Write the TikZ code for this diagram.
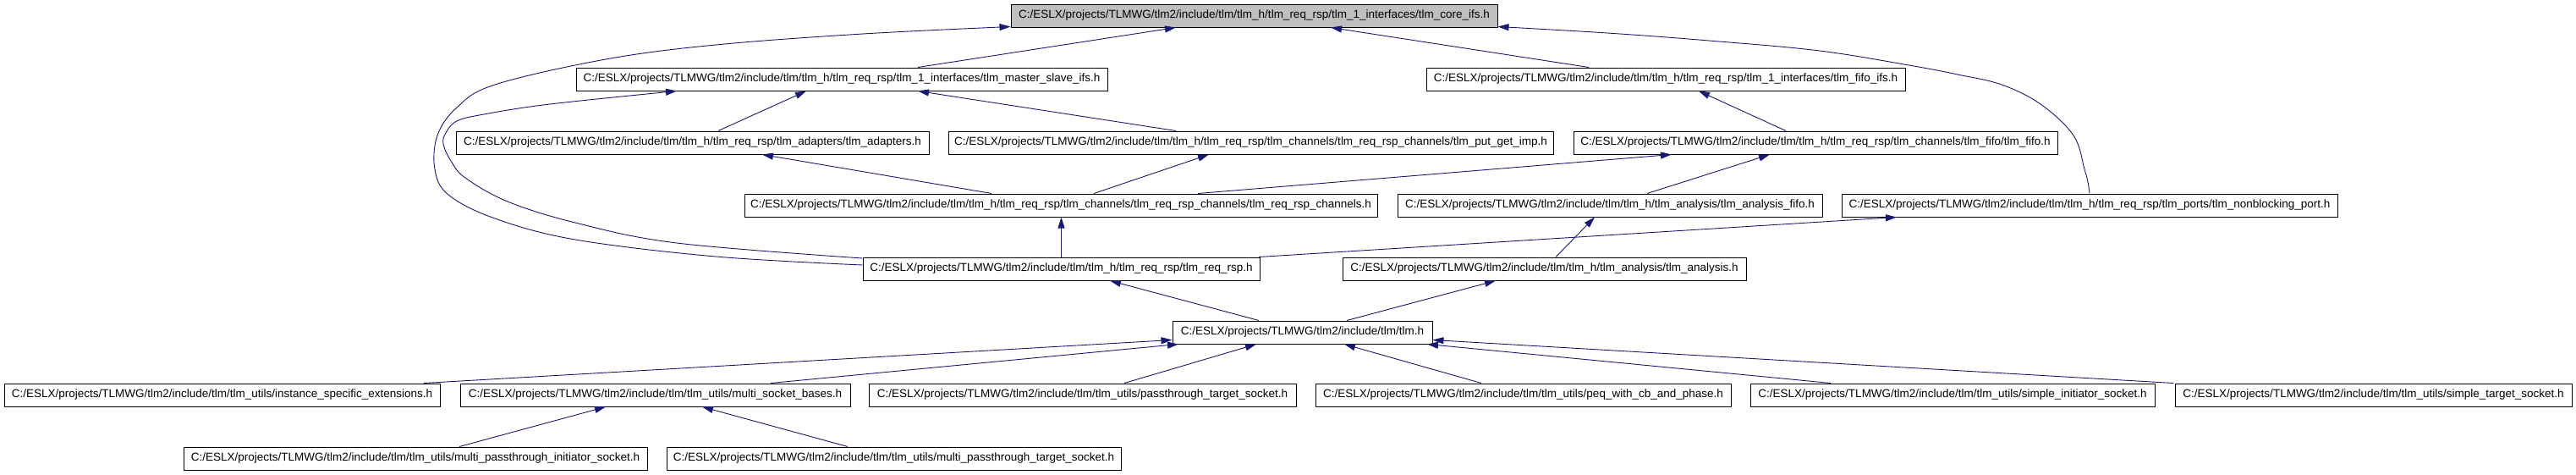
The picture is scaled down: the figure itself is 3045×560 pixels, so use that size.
\documentclass[tikz,border=0pt]{standalone}
\usepackage{fontspec}
\setmainfont{Liberation Sans}
\usetikzlibrary{arrows.meta}
\definecolor{edgeblue}{HTML}{191970}
\definecolor{hlgray}{HTML}{BFBFBF}
\begin{document}
\begin{tikzpicture}[x=1pt,y=-1pt,
  box/.style={draw=black, line width=1pt, fill=white, minimum height=27pt, inner sep=0pt,
    font=\fontsize{13.5}{16}\selectfont},
  edge/.style={draw=edgeblue, line width=0.9pt},
  arr/.style={-{Triangle[length=13pt,width=8pt]}}]
\useasboundingbox[fill=white] (0,0) rectangle (3045,560);

% row 1
\node[box, fill=hlgray, minimum width=575pt] (core) at (1482.5,18.5) {C:/ESLX/projects/TLMWG/tlm2/include/tlm/tlm\_h/tlm\_req\_rsp/tlm\_1\_interfaces/tlm\_core\_ifs.h};
% row 2
\node[box, minimum width=628pt] (ms) at (995,93.5) {C:/ESLX/projects/TLMWG/tlm2/include/tlm/tlm\_h/tlm\_req\_rsp/tlm\_1\_interfaces/tlm\_master\_slave\_ifs.h};
\node[box, minimum width=566pt] (fifoifs) at (1969,93.5) {C:/ESLX/projects/TLMWG/tlm2/include/tlm/tlm\_h/tlm\_req\_rsp/tlm\_1\_interfaces/tlm\_fifo\_ifs.h};
% row 3
\node[box, minimum width=559pt] (adapt) at (818.5,168.5) {C:/ESLX/projects/TLMWG/tlm2/include/tlm/tlm\_h/tlm\_req\_rsp/tlm\_adapters/tlm\_adapters.h};
\node[box, minimum width=715pt] (pgi) at (1478.5,168.5) {C:/ESLX/projects/TLMWG/tlm2/include/tlm/tlm\_h/tlm\_req\_rsp/tlm\_channels/tlm\_req\_rsp\_channels/tlm\_put\_get\_imp.h};
\node[box, minimum width=572pt] (tfifo) at (2146,168.5) {C:/ESLX/projects/TLMWG/tlm2/include/tlm/tlm\_h/tlm\_req\_rsp/tlm\_channels/tlm\_fifo/tlm\_fifo.h};
% row 4
\node[box, minimum width=748pt] (rrc) at (1254,242.5) {C:/ESLX/projects/TLMWG/tlm2/include/tlm/tlm\_h/tlm\_req\_rsp/tlm\_channels/tlm\_req\_rsp\_channels/tlm\_req\_rsp\_channels.h};
\node[box, minimum width=502pt] (afifo) at (1903,242.5) {C:/ESLX/projects/TLMWG/tlm2/include/tlm/tlm\_h/tlm\_analysis/tlm\_analysis\_fifo.h};
\node[box, minimum width=586pt] (nb) at (2470,242.5) {C:/ESLX/projects/TLMWG/tlm2/include/tlm/tlm\_h/tlm\_req\_rsp/tlm\_ports/tlm\_nonblocking\_port.h};
% row 5
\node[box, minimum width=469pt] (rr) at (1254.5,317.5) {C:/ESLX/projects/TLMWG/tlm2/include/tlm/tlm\_h/tlm\_req\_rsp/tlm\_req\_rsp.h};
\node[box, minimum width=477pt] (an) at (1825.5,317.5) {C:/ESLX/projects/TLMWG/tlm2/include/tlm/tlm\_h/tlm\_analysis/tlm\_analysis.h};
% row 6
\node[box, minimum width=307pt] (tlm) at (1539.5,392.5) {C:/ESLX/projects/TLMWG/tlm2/include/tlm/tlm.h};
% row 7
\node[box, minimum width=515pt] (inst) at (262.5,466.5) {C:/ESLX/projects/TLMWG/tlm2/include/tlm/tlm\_utils/instance\_specific\_extensions.h};
\node[box, minimum width=461pt] (msb) at (774.5,466.5) {C:/ESLX/projects/TLMWG/tlm2/include/tlm/tlm\_utils/multi\_socket\_bases.h};
\node[box, minimum width=505pt] (pts) at (1279.5,466.5) {C:/ESLX/projects/TLMWG/tlm2/include/tlm/tlm\_utils/passthrough\_target\_socket.h};
\node[box, minimum width=491pt] (peq) at (1800.5,466.5) {C:/ESLX/projects/TLMWG/tlm2/include/tlm/tlm\_utils/peq\_with\_cb\_and\_phase.h};
\node[box, minimum width=478pt] (sinit) at (2308,466.5) {C:/ESLX/projects/TLMWG/tlm2/include/tlm/tlm\_utils/simple\_initiator\_socket.h};
\node[box, minimum width=469pt] (stgt) at (2805.5,466.5) {C:/ESLX/projects/TLMWG/tlm2/include/tlm/tlm\_utils/simple\_target\_socket.h};
% row 8
\node[box, minimum width=548pt] (mpi) at (491,541.5) {C:/ESLX/projects/TLMWG/tlm2/include/tlm/tlm\_utils/multi\_passthrough\_initiator\_socket.h};
\node[box, minimum width=537pt] (mpt) at (1056.5,541.5) {C:/ESLX/projects/TLMWG/tlm2/include/tlm/tlm\_utils/multi\_passthrough\_target\_socket.h};

% straight edges
\draw[edge,arr] ([xshift=90pt]ms.north) -- ([xshift=-92.5pt]core.south);
\draw[edge,arr] ([xshift=-91pt]fifoifs.north) -- ([xshift=90.5pt]core.south);
\draw[edge,arr] ([xshift=30.5pt]adapt.north) -- ([xshift=-42pt]ms.south);
\draw[edge,arr] ([xshift=-88.5pt]pgi.north) -- ([xshift=90pt]ms.south);
\draw[edge,arr] ([xshift=-35pt]tfifo.north) -- ([xshift=39pt]fifoifs.south);
\draw[edge,arr] ([xshift=-82pt]rrc.north) -- ([xshift=82.5pt]adapt.south);
\draw[edge,arr] ([xshift=39pt]rrc.north) -- ([xshift=-49.5pt]pgi.south);
\draw[edge,arr] ([xshift=162pt]rrc.north) -- ([xshift=-170pt]tfifo.south);
\draw[edge,arr] ([xshift=44pt]afifo.north) -- ([xshift=-54pt]tfifo.south);
\draw[edge,arr] (rr.north) -- (rr.north |- rrc.south);
\draw[edge,arr] ([xshift=233.5pt]rr.north) -- ([xshift=-228pt]nb.south);
\draw[edge,arr] ([xshift=13.5pt]an.north) -- ([xshift=-18pt]afifo.south);
\draw[edge,arr] ([xshift=-51.5pt]tlm.north) -- ([xshift=57.5pt]rr.south);
\draw[edge,arr] ([xshift=52.5pt]tlm.north) -- ([xshift=-57.5pt]an.south);
\draw[edge,arr] ([xshift=238.5pt]inst.north) -- ([yshift=5pt]tlm.south west);
\draw[edge,arr] ([xshift=136.5pt]msb.north) -- ([xshift=-146.5pt]tlm.south);
\draw[edge,arr] ([xshift=49.5pt]pts.north) -- ([xshift=-54.5pt]tlm.south);
\draw[edge,arr] ([xshift=-49.5pt]peq.north) -- ([xshift=49.5pt]tlm.south);
\draw[edge,arr] ([xshift=-144pt]sinit.north) -- ([xshift=147.5pt]tlm.south);
\draw[edge,arr] ([xshift=-236.5pt]stgt.north) -- ([yshift=5pt]tlm.south east);
\draw[edge,arr] ([xshift=52pt]mpi.north) -- ([xshift=-58.5pt]msb.south);
\draw[edge,arr] ([xshift=-54.5pt]mpt.north) -- ([xshift=55.5pt]msb.south);

% curved edges
\draw[edge,arr] plot[smooth, tension=0.6] coordinates {([yshift=4.5pt]rr.west) (846,303) (680,283) (585,258) (530,230) (514,200) (517,160) (540,127) (585,100) (716,70) (846,53) (1020,40) ([yshift=1pt]core.south west)};
\draw[edge,arr] plot[smooth, tension=0.6] coordinates {([yshift=12.5pt]rr.west) (800,287) (680,263) (600,238) (550,210) (533,190) (524,170) (527,157) (540,143) (572,135) (650,123) ([xshift=-195pt]ms.south)};
\draw[edge,arr] plot[smooth, tension=0.6] coordinates {(nb.north) (2468,215) (2464,200) (2451,160) (2412,123) (2366,100) (2314,88) (2262,78) (2151,60) (2020,48) (1900,39) ([yshift=1pt]core.south east)};
\end{tikzpicture}
\end{document}
